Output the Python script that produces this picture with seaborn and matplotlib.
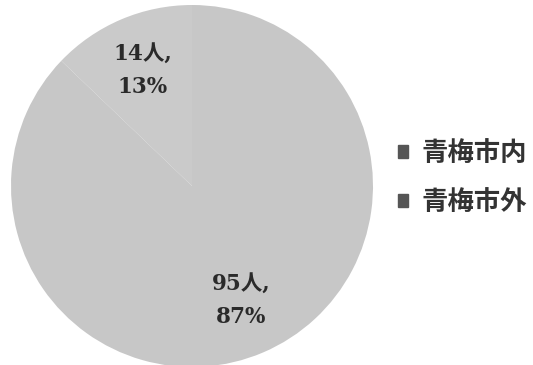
import matplotlib
matplotlib.use("Agg")
import matplotlib.pyplot as plt
import seaborn as sns
import numpy as np
from matplotlib.patches import Patch

categories = ["青梅市内", "青梅市外"]
counts = [14, 95]
percents = [13, 87]
slice_colors = ["#cacaca", "#c7c7c7"]

sns.set_theme(style="white")
plt.rcParams["font.family"] = ["Noto Sans CJK JP", "DejaVu Sans"]

W, H = 533, 365
fig = plt.figure(figsize=(W / 100, H / 100), dpi=100)
cx, cy, r = 192, 186, 181
pad = 2
ax = fig.add_axes([(cx - r - pad) / W, (H - cy - r - pad) / H,
                   2 * (r + pad) / W, 2 * (r + pad) / H])
wedges, _ = ax.pie(counts, colors=slice_colors, startangle=90, counterclock=True,
                   radius=1.0, wedgeprops=dict(linewidth=0))
lim = 1.0 + pad / r
ax.set_xlim(-lim, lim)
ax.set_ylim(-lim, lim)
ax.set_aspect("equal")
ax.axis("off")

total = sum(counts)
start = 90.0
for c, p in zip(counts, percents):
    span = 360.0 * c / total
    mid = np.deg2rad(start + span / 2)
    start += span
    ax.text(0.69 * np.cos(mid), 0.69 * np.sin(mid), f"{c}人,\n{p}%",
            ha="center", va="center", fontsize=15.5, linespacing=1.6, fontweight="bold",
            family=["DejaVu Serif", "Noto Sans CJK JP"], color="#2a2a2a")

handles = [Patch(facecolor="#555555", edgecolor="#555555") for _ in categories]
fig.legend(handles, categories, loc="center left", bbox_to_anchor=(374 / W, 1 - 178 / H),
           frameon=False, handlelength=0.4, handleheight=0.4,
           handletextpad=0.5, labelspacing=0.85, labelcolor="#333333",
           prop=dict(size=19, weight="bold", family=["Noto Sans CJK JP", "DejaVu Sans"]))

fig.savefig("out.png", dpi=100, facecolor="white")
